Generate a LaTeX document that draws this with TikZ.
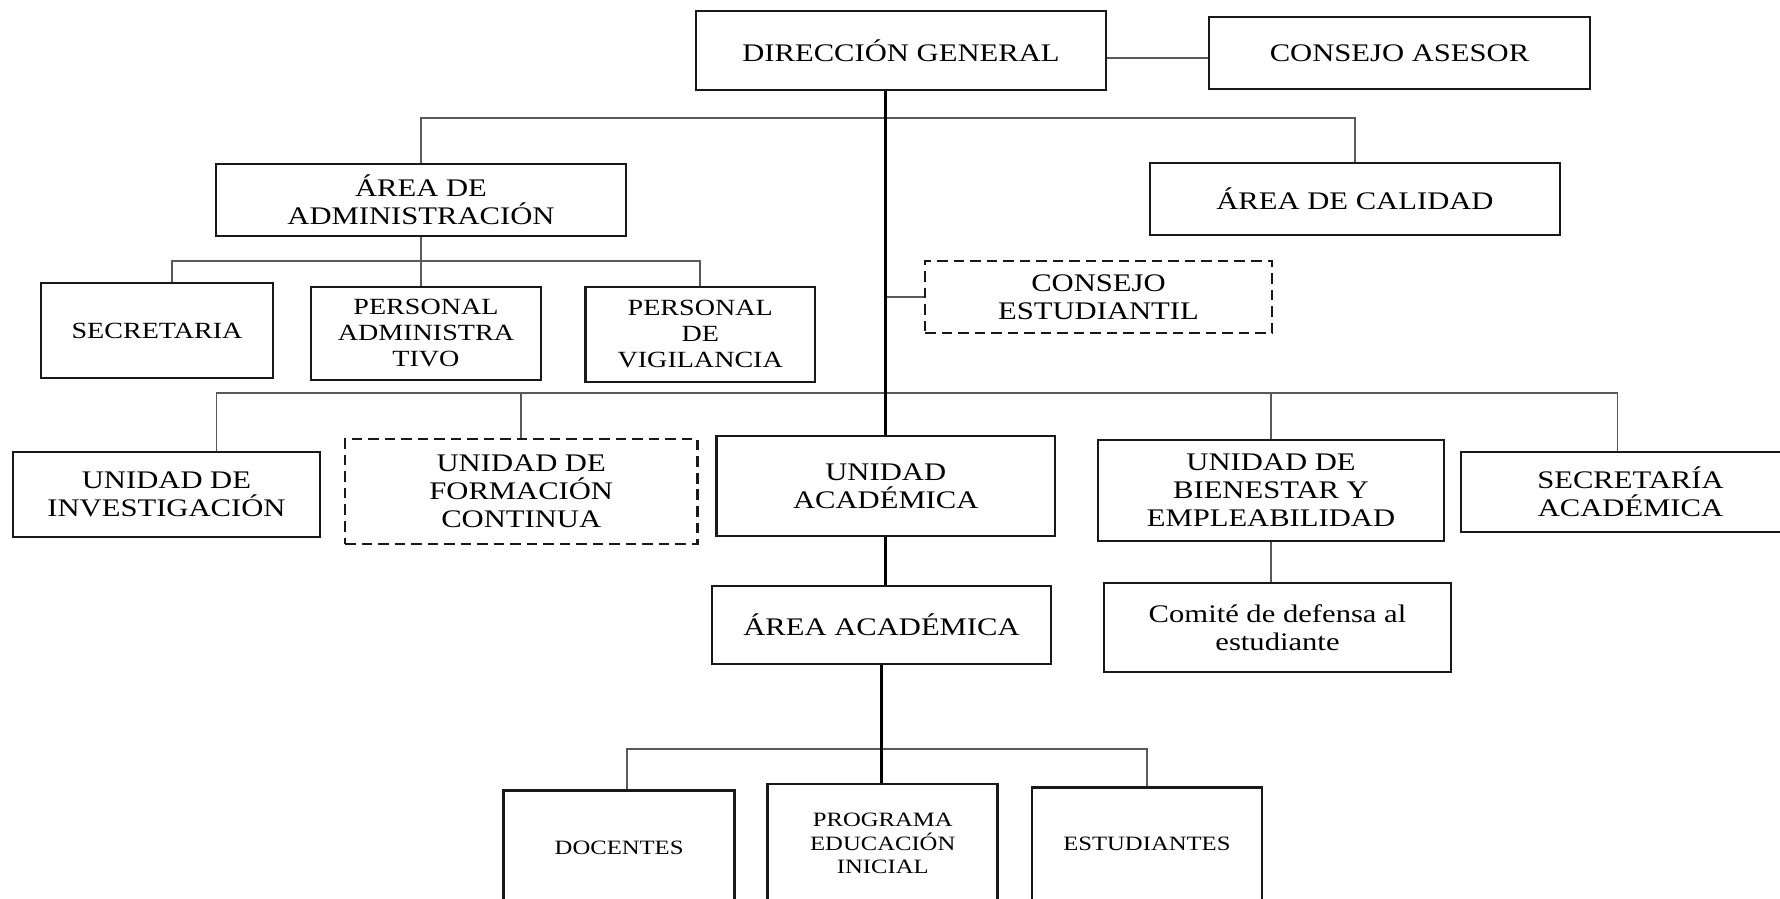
\documentclass[tikz,border=0pt]{standalone}
\usepackage{fontspec}
\setmainfont{Liberation Serif}[FakeStretch=1.21]

\begin{document}
\begin{tikzpicture}[
	box/.style={draw=black!90, line width=0.75pt, align=center, inner sep=0pt, font=\fontsize{7.2}{8}\selectfont},
	dbox/.style={box, dash pattern=on 3pt off 1.7pt},
	small/.style={font=\fontsize{6.6}{7.4}\selectfont},
	tiny/.style={font=\fontsize{5.8}{6.6}\selectfont},
	link/.style={draw=black!65, line width=0.5pt},
	trunk/.style={draw=black, line width=0.95pt}]
	\useasboundingbox (0,0) rectangle (17.8,-8.99);

	\node[box, minimum width=4.10cm, minimum height=0.79cm] (DG) at (9.01,-0.505) {DIRECCIÓN GENERAL};
	\node[box, minimum width=3.81cm, minimum height=0.72cm] (CA) at (13.995,-0.53) {CONSEJO ASESOR};

	\node[box, minimum width=4.10cm, minimum height=0.72cm] (AdA) at (4.21,-2.00) {ÁREA DE\\ADMINISTRACIÓN};
	\node[box, minimum width=4.10cm, minimum height=0.72cm] (AC) at (13.55,-1.99) {ÁREA DE CALIDAD};

	\node[box, small, minimum width=2.32cm, minimum height=0.95cm] (SEC) at (1.57,-3.305) {SECRETARIA};
	\node[box, small, minimum width=2.30cm, minimum height=0.93cm] (PA) at (4.26,-3.335) {PERSONAL\\ADMINISTRA\\TIVO};
	\node[box, small, minimum width=2.295cm, minimum height=0.95cm] (PV) at (7.0025,-3.345) {PERSONAL\\DE\\VIGILANCIA};
	\node[dbox, minimum width=3.47cm, minimum height=0.72cm] (CE) at (10.985,-2.97) {CONSEJO\\ESTUDIANTIL};

	\node[box, minimum width=3.07cm, minimum height=0.85cm] (UI) at (1.665,-4.945) {UNIDAD DE\\INVESTIGACIÓN};
	\node[dbox, minimum width=3.525cm, minimum height=1.05cm] (UFC) at (5.2125,-4.915) {UNIDAD DE\\FORMACIÓN\\CONTINUA};
	\node[box, minimum width=3.385cm, minimum height=1.00cm] (UA) at (8.8575,-4.86) {UNIDAD\\ACADÉMICA};
	\node[box, minimum width=3.46cm, minimum height=1.01cm] (UBE) at (12.71,-4.905) {UNIDAD DE\\BIENESTAR Y\\EMPLEABILIDAD};
	\node[box, minimum width=3.39cm, minimum height=0.80cm] (SA) at (16.305,-4.92) {SECRETARÍA\\ACADÉMICA};

	\node[box, minimum width=3.39cm, minimum height=0.78cm] (AAc) at (8.815,-6.25) {ÁREA ACADÉMICA};
	\node[box, minimum width=3.47cm, minimum height=0.89cm] (COM) at (12.775,-6.275) {Comité de defensa al\\estudiante};

	\node[box, tiny, minimum width=2.312cm, minimum height=1.146cm] (DOC) at (6.191,-8.48) {DOCENTES};
	\node[box, tiny, minimum width=2.30cm, minimum height=1.19cm] (PEI) at (8.8275,-8.435) {PROGRAMA\\EDUCACIÓN\\INICIAL};
	\node[box, tiny, minimum width=2.30cm, minimum height=1.134cm] (EST) at (11.469,-8.44) {ESTUDIANTES};

	\coordinate (bar1) at (0,-1.18);
	\coordinate (bar2) at (0,-3.93);
	\coordinate (bar3) at (0,-2.61);
	\coordinate (bar4) at (0,-7.49);

	\draw[link] ([yshift=-0.5mm]CA.west) -- ([yshift=-0.5mm]CA.west -| DG.east);
	\draw[link] (AdA.north) |- (AC.north |- bar1) -- (AC.north);
	\draw[link] (AdA.south) -- (AdA.south |- PA.north);
	\draw[link] ([xshift=1.5mm]SEC.north) |- (PV.north |- bar3) -- (PV.north);
	\draw[link] (CE.west) -- (CE.west -| UA.north);
	\draw[link] ([xshift=5mm]UI.north) |- ([xshift=-1.3mm]SA.north |- bar2) -- ([xshift=-1.3mm]SA.north);
	\draw[link] (UFC.north) -- (UFC.north |- bar2);
	\draw[link] (UBE.north) -- (UBE.north |- bar2);
	\draw[link] (UBE.south) -- (UBE.south |- COM.north);
	\draw[link] ([xshift=0.8mm]DOC.north) |- (EST.north |- bar4) -- (EST.north);

	\draw[trunk] (UA.north |- DG.south) -- (UA.north);
	\draw[trunk] (UA.south) -- (UA.south |- AAc.north);
	\draw[trunk] (AAc.south) -- (AAc.south |- PEI.north);
\end{tikzpicture}
\end{document}
